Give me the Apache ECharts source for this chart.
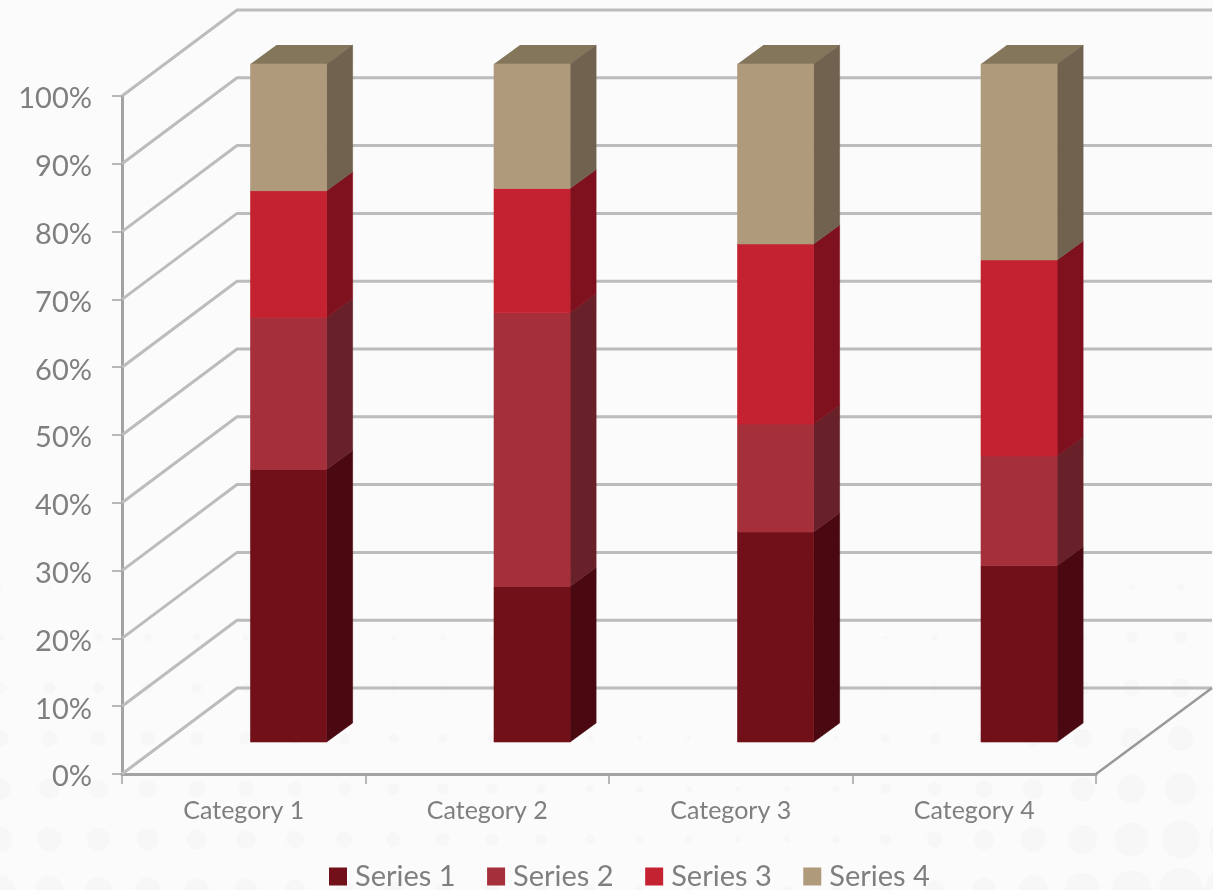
<!DOCTYPE html>
<html>
<head>
<meta charset="utf-8">
<style>html,body{margin:0;padding:0;background:#fbfbfb}#c{width:1213px;height:890px}</style>
<script src="https://cdn.jsdelivr.net/npm/echarts@6/dist/echarts.min.js"></script>
</head>
<body>
<div id="c"></div>
<script>
const categories = ['Category 1', 'Category 2', 'Category 3', 'Category 4'];
const seriesNames = ['Series 1', 'Series 2', 'Series 3', 'Series 4'];
const series1 = [4.3, 2.5, 3.5, 4.5];
const series2 = [2.4, 4.4, 1.8, 2.8];
const series3 = [2, 2, 3, 5];
const series4 = [2, 2, 3, 5];
const yTicks = [0, 10, 20, 30, 40, 50, 60, 70, 80, 90, 100];
const frontColors = ['#721019', '#a52f3b', '#c42231', '#b09a7c'];
const sideColors = ['#4a0810', '#682029', '#7f111e', '#71624f'];
const topColor = '#84765b';

const chart = echarts.init(document.getElementById('c'), null, { renderer: 'canvas' });
const allSeries = [series1, series2, series3, series4];
const totals = categories.map((_, i) => allSeries.reduce((s, a) => s + a[i], 0));

// background dots (decorative)
const dots = [];
for (let row = 0; row < 8; row++) {
  const cy = 890 - row * 50.5;
  for (let col = 0; col < 26; col++) {
    const cx = col * 49.2;
    const rowF = Math.max(0, 1 - row / 7);
    const leftF = Math.max(0, 1 - cx / 720);
    const rightF = Math.max(0, (cx - 820) / 390);
    const r = rowF * (9 * leftF + 3) * 1.25 + rowF * rightF * 20;
    if (r > 2) dots.push({ type: 'circle', silent: true, z: -10, shape: { cx, cy, r }, style: { fill: '#f7f7f7' } });
  }
}

const DX = 115, DY = -86;      // full floor depth
const wallSeries = {
  type: 'custom', name: 'walls', silent: true, z: 1, clip: false,
  data: yTicks.map(t => [0, t]),
  encode: { x: 0, y: 1 },
  renderItem(params, api) {
    const cs = params.coordSys;
    const y = api.coord([0, api.value(1)])[1];
    const x0 = cs.x, x1 = cs.x + cs.width;
    const children = [{
      type: 'polyline',
      shape: { points: [[x0, y], [x0 + DX, y + DY], [x1 + DX + 1, y + DY]] },
      style: { stroke: '#bcbcbc', lineWidth: 3, fill: 'none' }
    }];
    if (api.value(1) === 0) {
      children.push({
        type: 'line',
        shape: { x1: x1, y1: y, x2: x1 + DX + 1, y2: y + DY },
        style: { stroke: '#999999', lineWidth: 2.5 }
      });
    }
    return { type: 'group', children };
  }
};

function barRender(sIdx) {
  return function (params, api) {
    const band = api.size([1, 0])[0];
    const c = api.coord([api.value(0), 0]);
    const w = band * 0.3125;
    const ox = 44.8, oy = -32, dx = 26, dy = -19;
    const xl = c[0] + ox - w / 2, xr = xl + w;
    const yb = api.coord([api.value(0), api.value(1)])[1] + oy;
    const yt = api.coord([api.value(0), api.value(2)])[1] + oy;
    const children = [
      { type: 'polygon', shape: { points: [[xr, yb], [xr + dx, yb + dy], [xr + dx, yt + dy], [xr, yt]] }, style: { fill: sideColors[sIdx], stroke: sideColors[sIdx], lineWidth: 0.6 } },
      { type: 'rect', shape: { x: xl, y: yt, width: w, height: yb - yt }, style: { fill: frontColors[sIdx], stroke: frontColors[sIdx], lineWidth: 0.6 } }
    ];
    if (sIdx === seriesNames.length - 1) {
      children.unshift({ type: 'polygon', shape: { points: [[xl, yt], [xr, yt], [xr + dx, yt + dy], [xl + dx, yt + dy]] }, style: { fill: topColor } });
    }
    return { type: 'group', children };
  };
}

const barSeries = seriesNames.map((name, s) => ({
  type: 'custom', name, z: 3 + s, clip: false,
  itemStyle: { color: frontColors[s] },
  encode: { x: 0, y: [1, 2] },
  data: categories.map((_, i) => {
    let start = 0;
    for (let k = 0; k < s; k++) start += allSeries[k][i];
    return [i, start / totals[i] * 100, (start + allSeries[s][i]) / totals[i] * 100];
  }),
  renderItem: barRender(s)
}));

chart.setOption({
  animation: false,
  backgroundColor: '#fbfbfb',
  textStyle: { fontFamily: 'Lato' },
  graphic: dots,
  grid: { left: 122, top: 96, width: 974, height: 678 },
  legend: {
    data: seriesNames, left: 329, top: 862, padding: 0, itemWidth: 18, itemHeight: 18, itemGap: 31.5,
    icon: 'rect', selectedMode: false,
    textStyle: { fontFamily: 'Lato', fontSize: 29, color: '#7f7f7f', padding: [0, 0, 0, 3] }
  },
  xAxis: {
    type: 'category', data: categories,
    axisLine: { lineStyle: { color: '#a3a3a3', width: 3 } },
    axisTick: { show: true, length: 10, lineStyle: { color: '#a3a3a3', width: 1.5 } },
    axisLabel: { fontFamily: 'Lato', fontSize: 25, color: '#7f7f7f', margin: 24 },
    splitLine: { show: false }
  },
  yAxis: {
    type: 'value', min: 0, max: 100, interval: 10,
    axisLine: { show: true, lineStyle: { color: '#a3a3a3', width: 3 } },
    axisTick: { show: true, length: 10, lineStyle: { color: '#a3a3a3', width: 1.5 } },
    axisLabel: { fontFamily: 'Lato', fontSize: 29, color: '#7f7f7f', margin: 30, verticalAlign: 'top', lineHeight: 6, formatter: '{value}%' },
    splitLine: { show: false }
  },
  series: [wallSeries].concat(barSeries)
});
</script>
</body>
</html>
